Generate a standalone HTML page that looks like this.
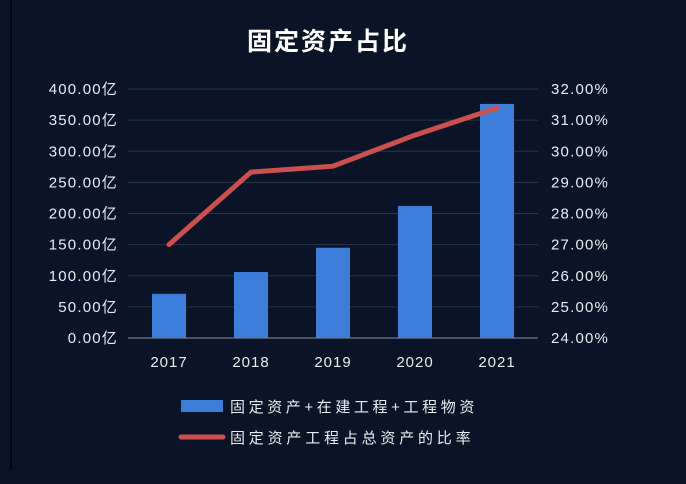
<!DOCTYPE html>
<html><head><meta charset="utf-8"><style>
html,body{margin:0;padding:0;background:#0b1326;}
svg{display:block;font-family:"Liberation Sans","Noto Sans CJK SC",sans-serif;}
</style></head><body>
<svg id="chart" width="686" height="484" viewBox="0 0 686 484">
<rect width="686" height="484" fill="#0b1326"/>
<line x1="11" y1="0" x2="11" y2="470" stroke="#02060e" stroke-width="2"/>
<text x="328" y="50" fill="#ffffff" font-size="25" font-weight="bold" text-anchor="middle" letter-spacing="2">固定资产占比</text>
<g id="grid"></g><g id="bars"></g><g id="line"></g><g id="axes"></g>
<g>
<rect x="181" y="400" width="42" height="12" fill="#3b7dd8"/>
<text x="230" y="412" fill="#e8ecf2" font-size="15" letter-spacing="3.6">固定资产+在建工程+工程物资</text>
<line x1="181" y1="437" x2="223" y2="437" stroke="#c9504f" stroke-width="5" stroke-linecap="round"/>
<text x="230" y="443" fill="#e8ecf2" font-size="15" letter-spacing="3.8">固定资产工程占总资产的比率</text>
</g>
</svg>
<script>
const categories=["2017","2018","2019","2020","2021"];
const barValues=[71,106,145,212,376];
const ratioValues=[27.0,29.33,29.52,30.52,31.39];
const leftTicks=[0,50,100,150,200,250,300,350,400];
const rightTicks=[24,25,26,27,28,29,30,31,32];
const NS="http://www.w3.org/2000/svg";
const x0=128,x1=538,yTop=89,yBot=338;
const yL=v=>yBot-(v/400)*(yBot-yTop);
const yR=v=>yBot-((v-24)/8)*(yBot-yTop);
const band=(x1-x0)/categories.length;
const xC=i=>x0+band*(i+0.5);
function mk(tag,attrs,parent){const e=document.createElementNS(NS,tag);for(const k in attrs)e.setAttribute(k,attrs[k]);document.getElementById(parent).appendChild(e);return e;}
leftTicks.forEach((t,i)=>{
 const g=mk("line",{x1:x0,x2:x1,y1:yL(t),y2:yL(t),stroke:i===0?"#8a93a6":"#2a3448","stroke-width":1},"grid");
 
 
 const l=mk("text",{x:118,y:yL(t)+5,fill:"#e8ecf2","font-size":15,"text-anchor":"end","letter-spacing":1.2},"axes");
 l.textContent=t.toFixed(2)+"亿";
 
 
});
rightTicks.forEach(t=>{
 const l=mk("text",{x:551,y:yR(t)+5,fill:"#e8ecf2","font-size":15,"letter-spacing":1.2},"axes");
 l.textContent=t.toFixed(2)+"%";
 
 
});
categories.forEach((c,i)=>{
 const b=mk("rect",{x:xC(i)-17,y:yL(barValues[i]),width:34,height:yBot-yL(barValues[i]),fill:"#3b7dd8"},"bars");
 
 
 const l=mk("text",{x:xC(i),y:367,fill:"#e8ecf2","font-size":15,"text-anchor":"middle","letter-spacing":1},"axes");
 l.textContent=c;
 
 
});
const pts=ratioValues.map((v,i)=>xC(i)+","+yR(v)).join(" ");
const pl=mk("polyline",{points:pts,fill:"none",stroke:"#c9504f","stroke-width":5,"stroke-linejoin":"round","stroke-linecap":"round"},"line");


</script>
</body></html>
